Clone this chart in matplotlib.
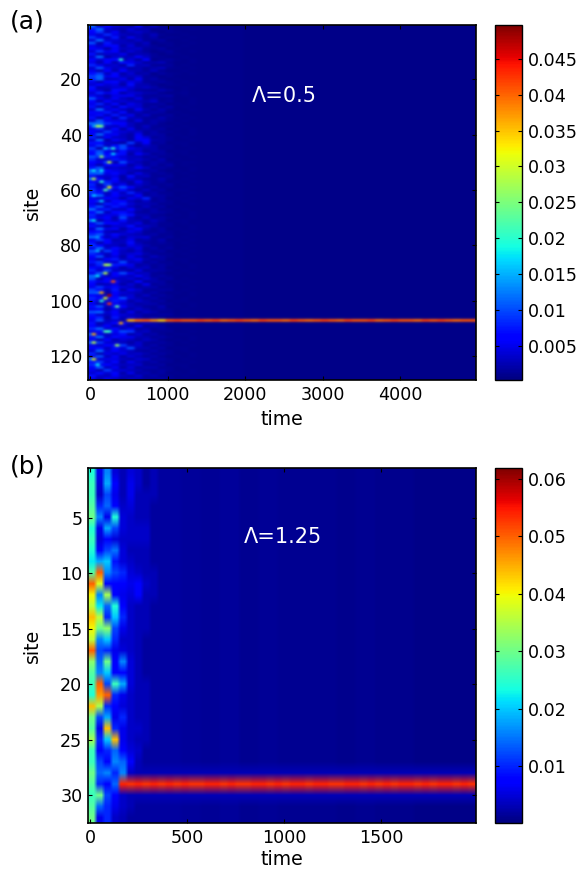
import numpy as np
import matplotlib
matplotlib.use('Agg')
import matplotlib.pyplot as plt

# panel (a): faint speckle, one digit per 100 time units, one string per site
a_speckle = [
 '9254215131101000','5932131201100100','4726123210110010','3285212131001000',
 '7329142120110100','2934213112001000','8173221301100100','3258131210101000',
 '4316223112010010','2747132101200100','5133412210110000','2914225311001000',
 '4268131601210100','3152643124100100','6324172311201010','2843312124110100',
 '3162522131001000','5728131202110100','7947223110100010','6923415121010000',
 '3158243112101000','2435162210110100','5124332321001000','4218521113201000',
 '2647133221012000','3215442112301000','8326214121100100','4153322241200100',
 '3628143112010100','5142633121301000','2936215213100100','4373612122010000',
 '3529241311201000','5162722113110100','2845314122101000','9988521121010000',
 '5333421311101000','3628141212010100','4295323121100100','3946215122010100',
 '6153216412101000','2916315722100100','5432182612011000','3728921321101000',
 '7196943221100100','5843623122011000','4959615312101000','8676322121100100',
 '6239423213010000','4392932122101100','3156413121301000','5824225312100100',
 '9765321121010100','8948314212101000','5235162311200100','9428132113101000',
 '4376215212010100','6193413211201000','5248952121100100','7394621312011000',
 '6528273121100100','5937326122101000','3265143912010100','4628521312101000',
 '3176732221100100','5839421312010000','9373252121101000','4928631122100100',
 '6245762211010100','5362921312100100','9143622132011000','3857324121101000',
 '5214362321100100','2946136212010100','4521243112101000','6838322121100100',
 '9425133411201000','3752241213010100','5163262112101000','7423143211100100',
 '3938324121201000','8196213112010100','6327234211101000','4825142132100100',
 '3169235212011000','5734923121101000','2629641212100100','4345132312010100',
 '6293214122101000','3817942311010100','9426325312100000','8153231421201000',
 '5368216122010100','4125131512101000','3748321221100100','7529143112201000',
 '8917322121010100','4326231312100100','6458932121101000','5239413212011000',
 '3146321221100100','5828522113010100','3415213212101000','8937141321100100',
 '5226322112201000','4619232121010100','3824143212100100','5137521321101000',
 '4262315122010100','6938241212101000','3546982311100100','8325613121011000',
 '5938442212100100','4162321321010100','8734213112101000','3256823121100100',
 '4528392212011000','2937321121101000','6143423212100100','3826132121010100',
 '9245213312101000','5738142121100100','6354223112011000','4826131221101000',
 '3194322112100100','2538141212010100','5226213121101000','3143122112100000',
]
# strength of the speckle in each 100 time block, 1e-3 per digit
a_weight = [1.1, 1.1, .9, .7, 1.0, 1.0, .9, .8, .7, .5, .4, .3, .25, .2, .1, .05]
a_floor = [1.6, 1.4, 1.2, 1.1, 1.0, 1.0, 0.9, 0.9, 0.9, 0.9, 0.9, 0.9, 0.9, 0.9, 0.85, 0.85]
# far field level per 200 time units, from t=1600
a_tail = [0.85, 0.85, 0.8, 0.8, 0.75, 0.75, 0.75, 0.7, 0.7, 0.7, 0.7, 0.65, 0.65, 0.65, 0.65, 0.65, 0.65]

# panel (a): bright spots
a_spot_site = [37, 37, 37, 13, 48, 50, 56, 59, 45, 45, 47, 60, 53, 53, 57, 64, 71, 82, 87, 87, 90, 93, 97,
               98, 99, 100, 101, 102, 108, 111, 111, 112, 115, 116, 121, 123, 91, 77, 62]
a_spot_time = [50, 100, 150, 400, 150, 250, 50, 250, 300, 200, 300, 200, 50, 150, 150, 150, 50, 100, 200, 250, 200, 300, 150,
               250, 200, 150, 250, 350, 400, 200, 250, 50, 50, 350, 50, 100, 100, 100, 50]
a_spot_val = [.014, .028, .024, .020, .026, .029, .029, .032, .020, .016, .017, .022, .018, .018, .020, .016, .018, .015, .029, .026, .029, .041, .036,
              .048, .031, .020, .042, .023, .036, .022, .020, .036, .029, .027, .031, .018, .018, .014, .017]

# panel (a): localised state at site 107, one value per 100 time units from t=500
a_line_site = 107
a_line = [36, 40, 41, 38, 35, 41, 42, 41, 41, 42, 41, 42, 40, 41, 42, 41, 40, 42, 41, 41, 40, 42, 41, 40, 41,
          42, 41, 40, 42, 41, 41, 42, 40, 41, 42, 41, 41, 40, 42, 41, 42, 41, 40, 41, 41]

# panel (b): early wave packets, 1e-3 units, one column per 40 time units
b_early = [
 [24,  6, 16,  5,  3,  5,  4,  2,  3,  2,  2,  2],
 [26,  5, 18,  7,  3,  6,  4,  2,  3,  2,  2,  2],
 [26,  4, 12,  6,  3,  6,  3,  3,  3,  2,  2,  2],
 [28, 10, 14,  8,  4,  5,  3,  3,  2,  2,  2,  2],
 [30, 16,  6, 24,  5,  4,  3,  3,  2,  2,  2,  2],
 [24,  6, 18, 12,  5,  4,  4,  4,  2,  2,  2,  2],
 [26,  5,  8,  5,  4,  4,  4,  4,  2,  2,  2,  2],
 [24,  8, 12, 15,  5,  3,  3,  3,  2,  2,  2,  2],
 [22, 18, 20,  9,  5,  4,  3,  3,  2,  2,  2,  2],
 [28, 50, 16, 12, 10,  5,  4,  3,  3,  2,  2,  2],
 [50, 38,  8,  8,  7,  6,  7,  4,  3,  2,  2,  2],
 [40, 16, 34,  8,  6,  5,  7,  3,  3,  2,  2,  2],
 [36, 22, 14, 24,  8,  4,  3,  3,  2,  2,  2,  2],
 [44, 36, 10, 20, 10,  4,  3,  3,  2,  2,  2,  2],
 [40, 30, 32, 12,  6,  4,  3,  3,  2,  2,  2,  2],
 [36, 16, 20, 10,  4,  4,  3,  2,  2,  2,  2,  2],
 [50, 12, 10,  6,  5,  4,  3,  2,  2,  2,  2,  2],
 [32, 14, 30,  8, 16,  5,  3,  2,  2,  2,  2,  2],
 [28, 16, 20,  8,  8,  5,  3,  2,  2,  2,  2,  2],
 [26, 50, 12, 26, 18,  5,  3,  3,  2,  2,  2,  2],
 [24, 46, 50, 10,  6,  4,  3,  3,  2,  2,  2,  2],
 [44, 34, 10,  8,  5,  4,  3,  3,  2,  2,  2,  2],
 [30, 12, 18,  6, 10,  4,  3,  3,  2,  2,  2,  2],
 [28,  6, 44, 10,  6,  4,  4,  3,  2,  2,  2,  2],
 [34, 10, 20, 44,  6,  4,  3,  3,  2,  2,  2,  2],
 [26,  8, 10, 14,  8,  5,  4,  2,  2,  2,  2,  2],
 [26, 12,  8, 16, 14,  8,  3,  2,  2,  2,  2,  2],
 [30, 14, 16, 10, 16,  4,  3,  3,  3,  3,  3,  3],
 [28, 10,  8, 14,  8,  5,  5,  5,  5,  5,  5,  5],
 [26, 30, 12,  8,  4,  3,  3,  3,  3,  3,  3,  3],
 [28, 14, 10,  6,  4,  3,  2,  2,  2,  2,  2,  2],
 [30,  6, 10,  4,  3,  2,  2,  2,  2,  2,  2,  2],
]
# far field per 100 time units, from t=470
b_tail = [1.7, 1.5, 1.6, 1.3, 1.4, 1.2, 1.2, 1.1, 1.0, 1.1, 0.9, 0.9, 0.8, 0.8, 0.7, 0.8]

b_line_site = 29
# 1e-3 units, one value per 40 time units from t=150
b_line = [54, 53, 54, 53, 54, 53, 54, 53, 54, 53, 53, 54, 54, 53, 54, 53, 53, 54, 54, 53, 54, 53, 54,
          54, 53, 54, 54, 53, 53, 54, 54, 53, 54, 53, 54, 53, 54, 54, 53, 54, 53, 54, 54, 53, 54, 53]
b_line_side = 3.2

a_yticks = [20, 40, 60, 80, 100, 120]
a_xticks = [0, 1000, 2000, 3000, 4000]
a_cticks = [.005, .01, .015, .02, .025, .03, .035, .04, .045]
a_clabels = ['0.005', '0.01', '0.015', '0.02', '0.025', '0.03', '0.035', '0.04', '0.045']
b_yticks = [5, 10, 15, 20, 25, 30]
b_xticks = [0, 500, 1000, 1500]
b_cticks = [.01, .02, .03, .04, .05, .06]
b_clabels = ['0.01', '0.02', '0.03', '0.04', '0.05', '0.06']

# build panel (a), 128 sites x 100 time steps of 50
grid_a = np.zeros((128, 100))
for c in range(100):
    t = c * 50
    if t < 1600:
        grid_a[:, c] = a_floor[t // 100] * 0.001
    else:
        grid_a[:, c] = a_tail[(t - 1600) // 200] * 0.001
for i, row in enumerate(a_speckle):
    for j, d in enumerate(row):
        grid_a[i, 2*j:2*j+2] += int(d) * a_weight[j] * 0.001
for s, t, v in zip(a_spot_site, a_spot_time, a_spot_val):
    grid_a[s-1, t // 50] = v
for i, v in enumerate(a_line):
    grid_a[a_line_site-1, 10 + 2*i:12 + 2*i] = v * 0.001

# build panel (b), 32 sites x 100 time steps of 20
grid_b = np.zeros((32, 100))
for c in range(100):
    t = c * 20
    if t < 470:
        grid_b[:, c] = np.array(b_early)[:, min(c // 2, 11)] * 0.001
    else:
        grid_b[:, c] = b_tail[(t - 470) // 100] * 0.001
        grid_b[b_line_site-2, c] = b_line_side * 0.001
        grid_b[b_line_site, c] = b_line_side * 0.001
for i, v in enumerate(b_line):
    grid_b[b_line_site-1, 8 + 2*i:10 + 2*i] = v * 0.001

W, H = 581., 871.
fig = plt.figure(figsize=(5.81, 8.71), dpi=100)


def box(l, t, r, b):
    return [l/W, 1 - b/H, (r-l)/W, (b-t)/H]


def panel(grid, t0, t1, top, bottom, vmin, vmax, xticks, yticks, cticks, clabels, note, note_xy, letter, letter_y, xlab_y, interp):
    ax = fig.add_axes(box(88, top, 476, bottom))
    im = ax.imshow(grid, cmap='jet', vmin=vmin, vmax=vmax, aspect='auto', interpolation=interp,
                   interpolation_stage='rgba', extent=[t0, t1, grid.shape[0]+.5, .5])
    ax.set_xticks(xticks)
    ax.set_yticks(yticks)
    ax.tick_params(direction='in', top=True, right=True, length=3, width=.8, labelsize=12.6, pad=4)
    ax.set_xlabel('time', fontsize=13.6)
    ax.set_ylabel('site', fontsize=13.6)
    ax.xaxis.set_label_coords(.5, xlab_y)
    ax.yaxis.set_label_coords(-.118, .5)
    for sp in ax.spines.values():
        sp.set_linewidth(1.2)
    ax.text(note_xy[0], note_xy[1], note, color='white', fontsize=15, ha='center', va='center')

    cax = fig.add_axes(box(495, top, 522, bottom))
    cb = fig.colorbar(im, cax=cax)
    cb.set_ticks(cticks)
    cb.set_ticklabels(clabels)
    cax.tick_params(direction='in', left=True, right=True, length=3, width=.8, labelsize=12.6, pad=4)
    cb.outline.set_linewidth(1.0)

    fig.text(10/W, 1 - letter_y/H, letter, fontsize=18, va='center', ha='left')


panel(grid_a, -25, 4975, 25, 380, .00025, .0497, a_xticks, a_yticks, a_cticks, a_clabels,
      '\u039b=0.5', (2510, 26), '(a)', 22, -.085, 'gaussian')
panel(grid_b, -10, 1990, 468, 823, .0001, .0619, b_xticks, b_yticks, b_cticks, b_clabels,
      '\u039b=1.25', (993, 6.7), '(b)', 466, -.076, 'bilinear')

plt.savefig('out.png', dpi=100)
